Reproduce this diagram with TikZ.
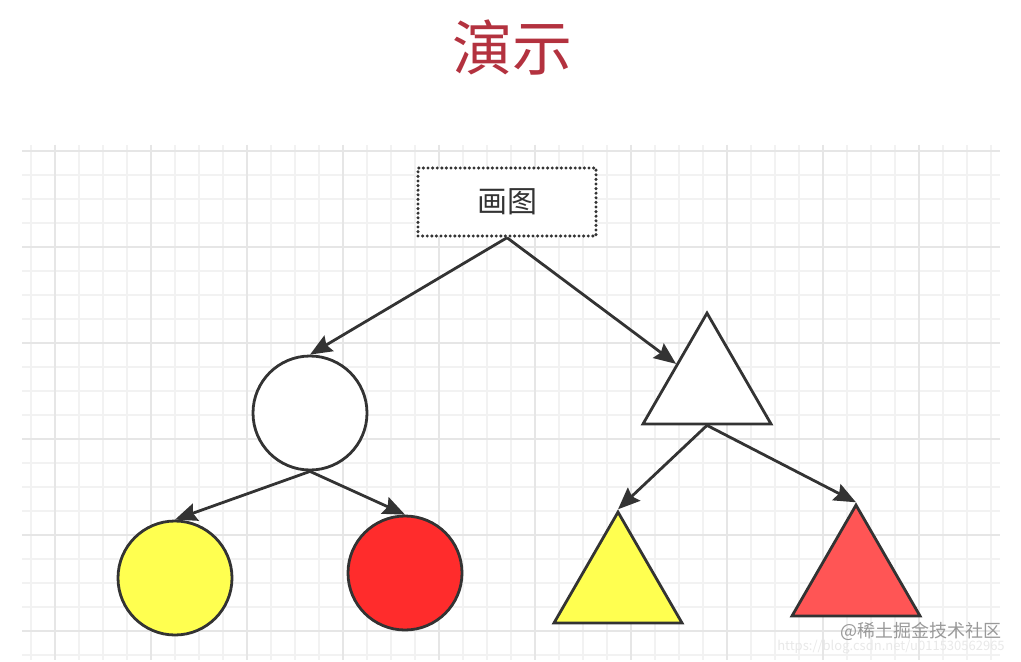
\documentclass[tikz,border=0pt]{standalone}
\usepackage{fontspec}
\newfontfamily\cjk{Noto Sans CJK SC}
\usetikzlibrary{arrows.meta,shapes.geometric}
\definecolor{titlered}{HTML}{B3323F}
\definecolor{linegray}{HTML}{333333}
\definecolor{gridminor}{HTML}{F2F2F2}
\definecolor{gridmajor}{HTML}{E6E6E6}
\definecolor{shapeyellow}{HTML}{FFFF50}
\definecolor{shapered}{HTML}{FF2C2C}
\definecolor{shapepink}{HTML}{FF5555}
\begin{document}
\begin{tikzpicture}[x=0.5pt,y=-0.5pt]
            \tikzstyle{round node}=[circle,draw=linegray,line width=1.4pt,inner sep=0,minimum size=57pt]
            \tikzstyle{tri node}=[regular polygon,regular polygon sides=3,draw=linegray,line width=1.4pt,inner sep=0,minimum size=73.9pt]
            \tikzstyle{edge}=[draw=linegray,line width=1.4pt,-{Stealth[length=11pt,width=9pt,inset=1.5pt]}]

            \useasboundingbox (0,0) rectangle (1021,662);

            % grid
            \foreach \k in {0,...,21}
            \draw[gridminor,line width=0.8pt] (22,151+24*\k) -- (1000,151+24*\k);
            \foreach \k in {0,...,40}
            \draw[gridminor,line width=0.8pt] (31+24*\k,145) -- (31+24*\k,660);
            \foreach \k in {0,...,5}
            \draw[gridmajor,line width=1.1pt] (22,151+96*\k) -- (1000,151+96*\k);
            \foreach \k in {0,...,9}
            \draw[gridmajor,line width=1.1pt] (55+96*\k,145) -- (55+96*\k,660);

            \node(title)[text=titlered,font=\cjk\fontsize{30}{30}\selectfont] at (512,48) {演示};

            \node(draw)[draw=linegray,line width=1.7pt,dash pattern=on 0pt off 2.3pt,line cap=round,fill=white,
              minimum width=89pt,minimum height=34pt,font=\cjk\fontsize{15}{15}\selectfont,text=linegray] at (507,202) {画图};

            \node(wc)[round node,fill=white] at (310,413) {};
            \node(wt)[tri node,fill=white] at (707,387) {};
            \node(yc)[round node,fill=shapeyellow] at (175,578) {};
            \node(rc)[round node,fill=shapered] at (405,573) {};
            \node(yt)[tri node,fill=shapeyellow] at (618,586) {};
            \node(rt)[tri node,fill=shapepink] at (856,579) {};

            \draw[edge] (draw.south) -- (wc.north);
            \draw[edge] (draw.south) -- (wt);
            \draw[edge] (wc.south) -- (yc.north);
            \draw[edge] (wc.south) -- (rc.north);
            \draw[edge] (wt.south) -- (yt.corner 1);
            \draw[edge] (wt.south) -- (rt.corner 1);

            % watermarks
            \node(url)[text=black!9,font=\cjk\fontsize{6.5}{6.5}\selectfont,inner sep=0] at (891,647) {https://blog.csdn.net/u011530562965};
            \node(mark)[text=black!40,font=\cjk\fontsize{9}{9}\selectfont,inner sep=0] at (921,631) {@稀土掘金技术社区};
        \end{tikzpicture}
\end{document}
